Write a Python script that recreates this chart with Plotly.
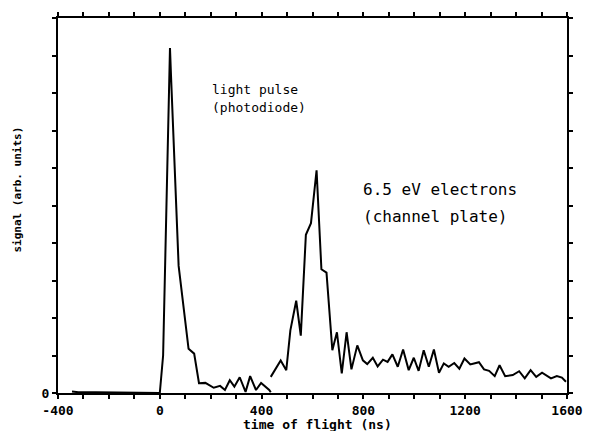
import plotly.graph_objects as go

# Light pulse (photodiode) trace
light_t = [-345, -320, -250, -150, -50, 0, 13, 40, 44, 74, 113, 135, 154, 179, 212,
           237, 256, 275, 293, 314, 337, 355, 378, 398, 430, 436]
light_s = [0.04, 0.02, 0.02, 0.02, 0.02, 0.0, 1.0, 9.2, 8.47, 3.39, 1.18, 1.05, 0.26,
           0.27, 0.14, 0.19, 0.08, 0.34, 0.17, 0.42, 0.03, 0.45, 0.08, 0.27, 0.08, 0.02]

# 6.5 eV electrons (channel plate) trace
elec_t = [436, 475, 497, 513, 536, 554, 574, 594, 616, 635, 655, 678, 696, 715, 734,
          753, 776, 798, 815, 837, 856, 877, 895, 914, 935, 956, 978, 998, 1017, 1037,
          1057, 1077, 1097, 1116, 1135, 1157, 1177, 1197, 1220, 1254, 1274, 1294, 1316,
          1335, 1357, 1387, 1412, 1434, 1457, 1479, 1502, 1537, 1560, 1580, 1596]
elec_s = [0.43, 0.87, 0.61, 1.67, 2.46, 1.53, 4.22, 4.53, 5.94, 3.30, 3.21, 1.14, 1.62,
          0.52, 1.62, 0.63, 1.27, 0.87, 0.77, 0.94, 0.71, 0.89, 0.83, 1.03, 0.70, 1.16,
          0.61, 0.94, 0.59, 1.14, 0.70, 1.16, 0.54, 0.79, 0.70, 0.80, 0.65, 0.92, 0.76,
          0.82, 0.63, 0.59, 0.45, 0.74, 0.45, 0.48, 0.58, 0.39, 0.61, 0.43, 0.54, 0.39,
          0.45, 0.41, 0.30]

x_tickvals = list(range(-400, 1601, 100))
x_ticktext = [str(v) if v % 400 == 0 else "" for v in x_tickvals]
y_tickvals = list(range(0, 11))
y_ticktext = ["0"] + [""] * 10

FONT = "DejaVu Sans Mono"

fig = go.Figure()
fig.add_trace(go.Scatter(x=light_t, y=light_s, mode="lines",
                         line=dict(color="black", width=2), showlegend=False))
fig.add_trace(go.Scatter(x=elec_t, y=elec_s, mode="lines",
                         line=dict(color="black", width=2), showlegend=False))

axis_common = dict(showgrid=False, zeroline=False, showline=True, linecolor="black",
                   linewidth=2, mirror="ticks", ticks="outside", ticklen=4,
                   tickwidth=1.5, tickcolor="black",
                   tickfont=dict(family=FONT, size=13, color="black", weight="bold"))

fig.update_xaxes(range=[-400, 1600], tickmode="array", tickvals=x_tickvals,
                 ticktext=x_ticktext, **axis_common)
fig.update_yaxes(range=[0, 10], tickmode="array", tickvals=y_tickvals,
                 ticktext=y_ticktext, **axis_common)

ann_font_small = dict(family=FONT, size=13, color="black")
ann_font_big = dict(family=FONT, size=16, color="black")
fig.add_annotation(x=197, y=8.1, xref="x", yref="y", text="light pulse",
                   showarrow=False, xanchor="left", yanchor="middle", font=ann_font_small)
fig.add_annotation(x=197, y=7.62, xref="x", yref="y", text="(photodiode)",
                   showarrow=False, xanchor="left", yanchor="middle", font=ann_font_small)
fig.add_annotation(x=791, y=5.42, xref="x", yref="y", text="6.5 eV electrons",
                   showarrow=False, xanchor="left", yanchor="middle", font=ann_font_big)
fig.add_annotation(x=791, y=4.71, xref="x", yref="y", text="(channel plate)",
                   showarrow=False, xanchor="left", yanchor="middle", font=ann_font_big)

fig.add_annotation(x=0.509, y=-0.084, xref="paper", yref="paper",
                   text="time of flight (ns)", showarrow=False,
                   xanchor="center", yanchor="middle",
                   font=dict(family=FONT, size=13, color="black", weight="bold"))
fig.add_annotation(x=-0.079, y=0.542, xref="paper", yref="paper",
                   text="signal (arb. units)", showarrow=False, textangle=-90,
                   xanchor="center", yanchor="middle",
                   font=dict(family=FONT, size=11, color="black", weight="bold"))

fig.update_layout(width=595, height=431, margin=dict(l=58, r=18, t=15, b=38),
                  plot_bgcolor="white", paper_bgcolor="white")

fig.write_html("out.html")
